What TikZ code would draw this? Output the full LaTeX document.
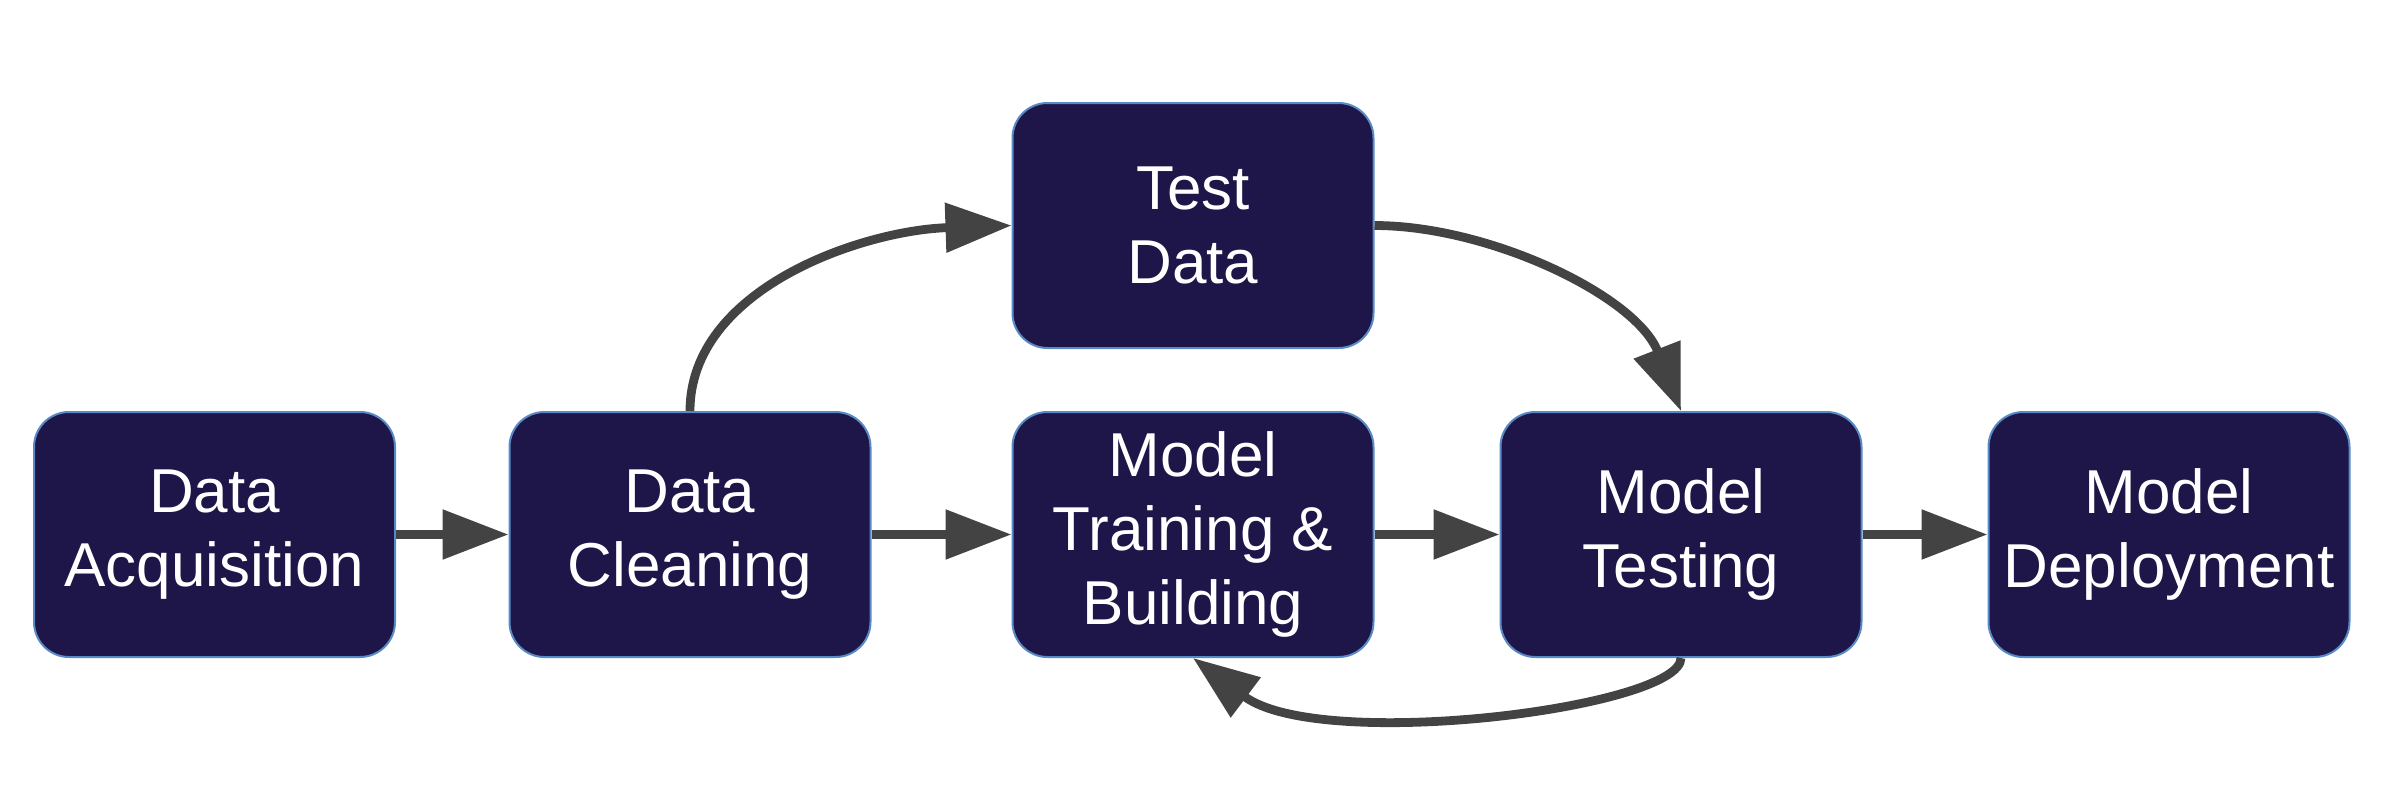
\documentclass[tikz,border=0pt]{standalone}
\usepackage{fontspec}
\setmainfont{Liberation Sans}
\usetikzlibrary{arrows.meta}
\definecolor{boxfill}{HTML}{1E1548}
\definecolor{boxline}{HTML}{5A8AC6}
\definecolor{arrgray}{HTML}{434343}
\tikzset{
  stagebox/.style={draw=boxline, line width=0.5pt, fill=boxfill, rounded corners=8.75pt,
    minimum width=90.25pt, minimum height=61.25pt, inner sep=0pt, align=center,
    text=white, font=\fontsize{15.5}{18.6}\selectfont},
  arr/.style={draw=arrgray, line width=2.2pt, -{Triangle[length=16.5pt,width=12pt]}, arrgray}
}
\begin{document}
\begin{tikzpicture}[x=0.25pt,y=-0.25pt]
\useasboundingbox (0,0) rectangle (2402,792);
\node[stagebox] (DA) at (214.5,534.5) {Data\\Acquisition};
\node[stagebox] (DC) at (690,534.5) {Data\\Cleaning};
\node[stagebox] (MTB) at (1193,534.5) {Model\\Training \&\\Building};
\node[stagebox] (TD) at (1193,225.5) {Test\\Data};
\node[stagebox] (MT) at (1681,534.5) {Model\\Testing};
\node[stagebox] (MD) at (2169,534.5) {Model\\Deployment};
\draw[arr] (DA.east) -- (DC.west);
\draw[arr] (DC.east) -- (MTB.west);
\draw[arr] (MTB.east) -- (MT.west);
\draw[arr] (MT.east) -- (MD.west);
\draw[arr] (DC.north) .. controls +(0,-122) and +(-150,5) .. (TD.west);
\draw[arr] (TD.east) .. controls +(115,0) and +(-45,-115) .. (MT.north);
\draw[arr] (MT.south) .. controls +(0,50) and +(127,95) .. (MTB.south);
\end{tikzpicture}
\end{document}
